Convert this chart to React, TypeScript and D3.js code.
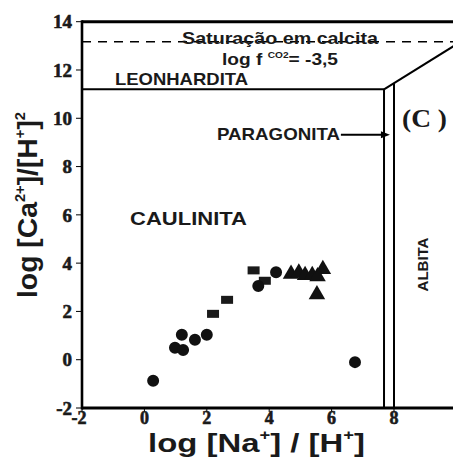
import * as d3 from 'd3';

// sample points
const circleX = [0.28, 0.98, 1.2, 1.24, 1.62, 2.0, 3.65, 4.22, 6.75];
const circleY = [-0.87, 0.5, 1.03, 0.4, 0.83, 1.03, 3.05, 3.62, -0.1];
const squareX = [2.2, 2.65, 3.5, 3.86];
const squareY = [1.9, 2.48, 3.7, 3.27];
const triangleX = [4.7, 4.95, 5.15, 5.38, 5.55, 5.72, 5.53];
const triangleY = [3.55, 3.6, 3.5, 3.5, 3.45, 3.75, 2.7];

const xTicks = [-2, 0, 2, 4, 6, 8];
const yTicks = [-2, 0, 2, 4, 6, 8, 10, 12, 14];

// stability field boundaries
const leonharditaLine: [number, number][] = [[-2, 11.2], [7.68, 11.2]];
const diagonalLine: [number, number][] = [[7.68, 11.2], [10, 13.06]];
const paragonitaLine: [number, number][] = [[7.68, 11.2], [7.68, -2]];
const albitaLine: [number, number][] = [[8, 11.44], [8, -2]];
const calcitaLine: [number, number][] = [[-2, 13.17], [10, 13.17]];
const arrowLine: [number, number][] = [[6.49, 9.32], [7.87, 9.32]];

export default function App() {
  const x = d3.scaleLinear().domain([-2, 8]).range([82, 394]);
  const y = d3.scaleLinear().domain([-2, 14]).range([408, 21.7]);
  const line = d3
    .line<[number, number]>()
    .x((d) => x(d[0]))
    .y((d) => y(d[1]));

  const tri = d3.symbol(d3.symbolTriangle, 118)() || '';
  const circ = d3.symbol(d3.symbolCircle, 113)() || '';

  const sans = 'Liberation Sans, Arial, sans-serif';
  const serif = '"Liberation Serif", "Times New Roman", serif';

  const ax = arrowLine[1];
  const tipX = x(ax[0]);
  const tipY = y(ax[1]);

  return (
    <svg
      width={453}
      height={458}
      style={{ position: 'absolute', left: 0, top: 0, background: '#fff' }}
    >
      {/* frame */}
      <line x1={x(-2)} x2={x(10)} y1={y(14)} y2={y(14)} stroke="#000" strokeWidth={3} />
      <line x1={x(-2)} x2={x(-2)} y1={y(14) - 1.5} y2={y(-2) + 1.5} stroke="#000" strokeWidth={2.6} />
      <line x1={x(-2)} x2={x(10)} y1={y(-2)} y2={y(-2)} stroke="#000" strokeWidth={3} />

      {/* y ticks */}
      {yTicks.map((t) => (
        <g key={'y' + t}>
          <line x1={x(-2) - 6} x2={x(-2)} y1={y(t)} y2={y(t)} stroke="#000" strokeWidth={1} />
          <text
            x={72}
            y={y(t)}
            dy="0.35em"
            textAnchor="end"
            fontFamily={serif}
            fontWeight="bold"
            fontSize={19}
            stroke="#1a1a1a"
            strokeWidth={0.6}
            fill="#1a1a1a"
          >
            {t < 0 ? '-' + Math.abs(t) : t}
          </text>
        </g>
      ))}

      {/* x ticks */}
      {xTicks.map((t) => (
        <g key={'x' + t}>
          <line x1={x(t)} x2={x(t)} y1={y(-2)} y2={y(-2) + 4} stroke="#000" strokeWidth={1} />
          <text
            x={x(t) - (t < 0 ? 3 : 0)}
            y={424}
            textAnchor="middle"
            fontFamily={serif}
            fontWeight="bold"
            fontSize={18}
            stroke="#1a1a1a"
            strokeWidth={0.6}
            fill="#1a1a1a"
          >
            {t < 0 ? '-' + Math.abs(t) : t}
          </text>
        </g>
      ))}

      {/* boundaries */}
      <path d={line(calcitaLine) || ''} fill="none" stroke="#000" strokeWidth={1.6} strokeDasharray="9,7" />
      <path d={line(leonharditaLine) || ''} fill="none" stroke="#000" strokeWidth={2} />
      <path d={line(diagonalLine) || ''} fill="none" stroke="#000" strokeWidth={2} />
      <path d={line(paragonitaLine) || ''} fill="none" stroke="#000" strokeWidth={2} />
      <path d={line(albitaLine) || ''} fill="none" stroke="#000" strokeWidth={2} />

      {/* arrow */}
      <path d={line(arrowLine) || ''} fill="none" stroke="#000" strokeWidth={2} transform="translate(-6,0)" />
      <path d={`M${tipX},${tipY}L${tipX - 9},${tipY - 3.5}L${tipX - 9},${tipY + 3.5}Z`} fill="#000" />

      {/* labels */}
      <text x={182} y={44} fontFamily={sans} fontWeight="bold" fontSize={17} textLength={196} lengthAdjust="spacingAndGlyphs" fill="#1a1a1a">
        Saturação em calcita
      </text>
      <text x={222} y={65} fontFamily={sans} fontWeight="bold" fontSize={17} textLength={116} lengthAdjust="spacingAndGlyphs" fill="#1a1a1a">
        log f{' '}
        <tspan fontSize={9} dy={-7}>CO2</tspan>
        <tspan dy={7}>= -3,5</tspan>
      </text>
      <text x={115} y={85} fontFamily={sans} fontWeight="bold" fontSize={17} textLength={133} lengthAdjust="spacingAndGlyphs" fill="#1a1a1a">
        LEONHARDITA
      </text>
      <text x={217} y={140} fontFamily={sans} fontWeight="bold" fontSize={17} textLength={123} lengthAdjust="spacingAndGlyphs" fill="#1a1a1a">
        PARAGONITA
      </text>
      <text x={402} y={127} fontFamily={serif} fontWeight="bold" fontSize={25} textLength={45} lengthAdjust="spacingAndGlyphs" fill="#1a1a1a">
        (C )
      </text>
      <text x={130} y={225} fontFamily={sans} fontWeight="bold" fontSize={18} textLength={117} lengthAdjust="spacingAndGlyphs" fill="#1a1a1a">
        CAULINITA
      </text>
      <text
        transform="translate(428,264.5) rotate(-90)"
        textAnchor="middle"
        fontFamily={sans}
        fontWeight="bold"
        fontSize={15}
        fill="#1a1a1a"
      >
        ALBITA
      </text>

      {/* axis titles */}
      <text x={148} y={452} fontFamily={sans} fontWeight="bold" fontSize={25} textLength={217} lengthAdjust="spacingAndGlyphs" fill="#1a1a1a">
        log [Na<tspan fontSize={14} dy={-12}>+</tspan>
        <tspan dy={12}>] / [H</tspan>
        <tspan fontSize={14} dy={-12}>+</tspan>
        <tspan dy={12}>]</tspan>
      </text>
      <text
        transform="translate(37,298) rotate(-90)"
        fontFamily={sans}
        fontWeight="bold"
        fontSize={27}
        textLength={186}
        lengthAdjust="spacingAndGlyphs"
        fill="#1a1a1a"
      >
        log [Ca<tspan fontSize={14} dy={-12}>2+</tspan>
        <tspan dy={12}>]/[H</tspan>
        <tspan fontSize={14} dy={-12}>+</tspan>
        <tspan dy={12}>]</tspan>
        <tspan fontSize={14} dy={-12}>2</tspan>
      </text>

      {/* points */}
      {squareX.map((v, i) => (
        <rect key={'s' + i} x={x(v) - 6} y={y(squareY[i]) - 4} width={12} height={8} fill="#1a1a1a" />
      ))}
      {circleX.map((v, i) => (
        <path key={'c' + i} d={circ} transform={`translate(${x(v)},${y(circleY[i])})`} fill="#111" />
      ))}
      {triangleX.map((v, i) => (
        <path key={'t' + i} d={tri} transform={`translate(${x(v)},${y(triangleY[i])})`} fill="#111" />
      ))}
    </svg>
  );
}
